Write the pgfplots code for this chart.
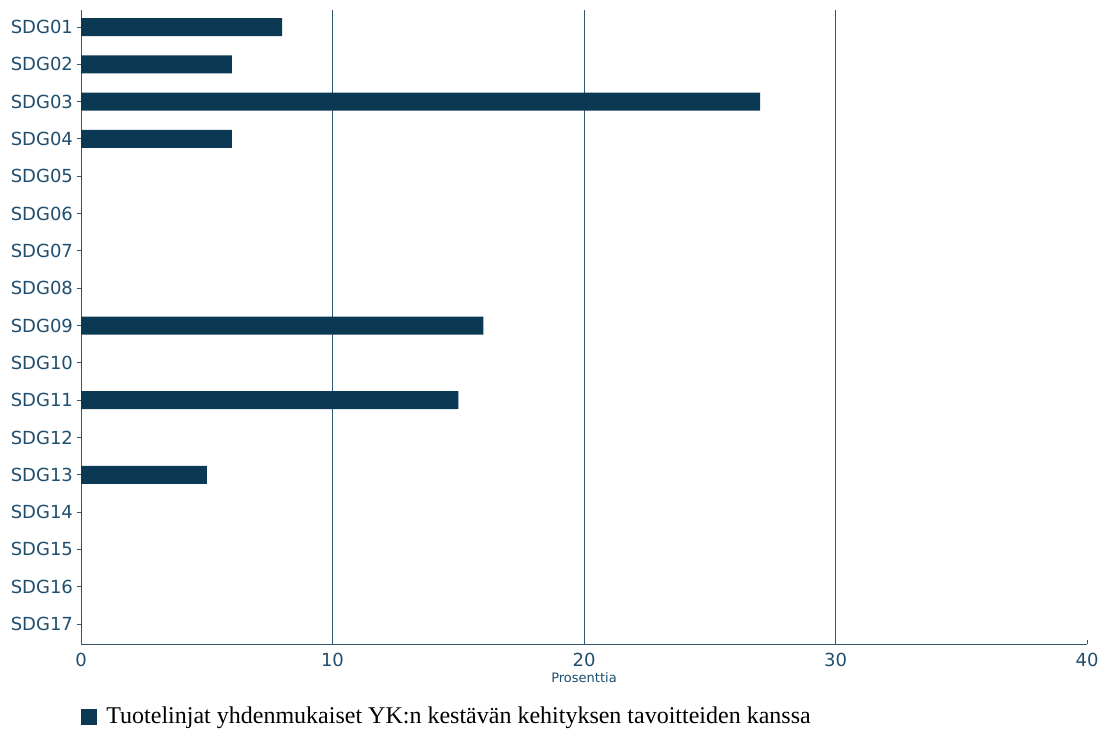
\documentclass[border=0pt]{standalone}
\usepackage{pgfplots}
\pgfplotsset{compat=1.18}
\usepackage{fontspec}
\setmainfont{DejaVu Sans}
\newfontfamily\legfont{Liberation Serif}
\definecolor{bar}{HTML}{0B3954}
\definecolor{ax}{HTML}{2E5A78}
\definecolor{txt}{HTML}{1F4E6E}
\begin{document}
\begin{tikzpicture}
\useasboundingbox (0,0) rectangle (550.5pt,364.5pt);
\begin{axis}[
  at={(40.5pt,42.5pt)}, anchor=south west,
  scale only axis, width=503pt, height=317pt,
  xbar, bar width=9pt, bar shift=0pt,
  xmin=0, xmax=40, ymin=0.544, ymax=17.536, y dir=reverse,
  axis x line*=bottom, axis y line*=left,
  axis line style={ax, line width=0.5pt, -},
  xtick={0,10,20,30,40},
  ytick={1,...,17},
  yticklabels={SDG01,SDG02,SDG03,SDG04,SDG05,SDG06,SDG07,SDG08,SDG09,SDG10,SDG11,SDG12,SDG13,SDG14,SDG15,SDG16,SDG17},
  major tick length=2pt,
  x tick style={ax, line width=0.5pt},
  y tick style={ax, line width=0.5pt},
  xtick align=inside, ytick align=outside,
  extra x ticks={10,20,30}, extra x tick labels={},
  extra x tick style={grid=major},
  grid style={ax, line width=0.5pt},
  /pgf/number format/assume math mode=true,
  ticklabel style={font=\fontsize{9}{10}\selectfont, text=txt},
  xticklabel style={yshift=-1pt},
  yticklabel style={xshift=1.5pt},
  xlabel={Prosenttia},
  xlabel style={font=\fontsize{6.5}{7}\selectfont, text=txt, yshift=4pt},
  legend style={at={(0,-0.115)}, anchor=west, draw=none, fill=none,
    font=\legfont\fontsize{12}{14}\selectfont, inner sep=0pt,
    legend cell align=left},
  legend image code/.code={\fill[bar] (0pt,-4pt) rectangle (8pt,4pt);},
]
\addplot[fill=bar, draw=none] coordinates {
(8,1) (6,2) (27,3) (6,4) (0,5) (0,6) (0,7) (0,8) (16,9) (0,10) (15,11) (0,12) (5,13) (0,14) (0,15) (0,16) (0,17)};
\addlegendentry{\hspace{2.5pt}Tuotelinjat yhdenmukaiset YK:n kestävän kehityksen tavoitteiden kanssa}
\end{axis}
\end{tikzpicture}
\end{document}
